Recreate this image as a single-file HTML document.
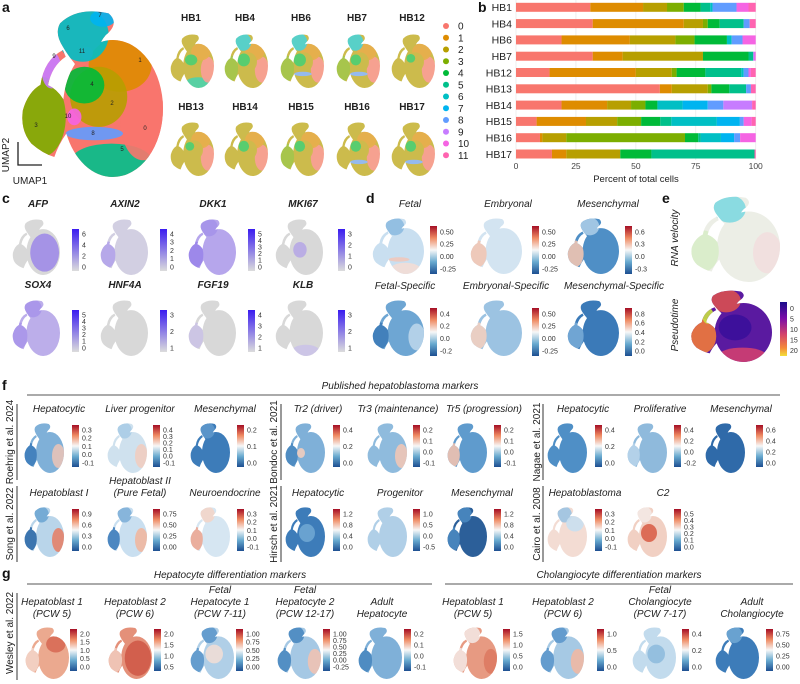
<!DOCTYPE html>
<html><head><meta charset="utf-8">
<style>
html,body{margin:0;padding:0;background:#fff;}
svg{display:block;font-family:"Liberation Sans",Arial,sans-serif;}
.t{font-style:italic;font-size:10px;fill:#222;text-anchor:middle;}
.cbl{font-size:7px;fill:#333;}
.lab{font-weight:bold;font-size:14px;fill:#111;}
.rl{font-size:10px;fill:#222;text-anchor:middle;}
</style></head>
<body>
<svg id="fig" width="800" height="684" viewBox="0 0 800 684" xmlns="http://www.w3.org/2000/svg">
<defs>
<linearGradient id="gRdBu" x1="0" y1="0" x2="0" y2="1"><stop offset="0" stop-color="#a50f25"/><stop offset="0.25" stop-color="#ef8a62"/><stop offset="0.5" stop-color="#f7f7f7"/><stop offset="0.75" stop-color="#67a9cf"/><stop offset="1" stop-color="#1d4f91"/></linearGradient>
<linearGradient id="gPur" x1="0" y1="0" x2="0" y2="1"><stop offset="0" stop-color="#3a1cf0"/><stop offset="1" stop-color="#dcdcdc"/></linearGradient>
<linearGradient id="gPlasma" x1="0" y1="0" x2="0" y2="1"><stop offset="0" stop-color="#1a0c8a"/><stop offset="0.3" stop-color="#7a0ca8"/><stop offset="0.6" stop-color="#d4436a"/><stop offset="0.85" stop-color="#f58a3a"/><stop offset="1" stop-color="#f3e03a"/></linearGradient>
</defs>
<text class="lab" x="2" y="12">a</text>
<text class="lab" x="478" y="12">b</text>
<text class="lab" x="2" y="203">c</text>
<text class="lab" x="366" y="203">d</text>
<text class="lab" x="662" y="203">e</text>
<text class="lab" x="2" y="390">f</text>
<text class="lab" x="2" y="578">g</text>
<g id="barchart"></g>
<g id="plots"></g>
</svg>
<script>
// ===== Bar chart data =====
const samples = ["HB1","HB4","HB6","HB7","HB12","HB13","HB14","HB15","HB16","HB17"];
const clusters = ["0","1","2","3","4","5","6","7","8","9","10","11"];
const clusterColors = ["#F8766D","#DE8C00","#B79F00","#7CAE00","#00BA38","#00C08B","#00BFC4","#00B4F0","#619CFF","#C77CFF","#F564E3","#FF64B0"];
const pctHB1  = [31,22,10,7,7,4,1,0,10,0,5,3];
const pctHB4  = [32,38,8,2,5,10,0,0,2.5,0,0,2.5];
const pctHB6  = [19,28.5,19,8,13.5,0,2,0,4.5,0,5.5,0];
const pctHB7  = [32,12.5,33.5,0,19,2,0,0,0,0.5,0.5,0];
const pctHB12 = [14,36,15,2,12,15,1,0,2,0,1,2];
const pctHB13 = [60,5,15,1.5,7.5,7,0,0,2,0,0,2];
const pctHB14 = [19,19,10,6,5,0,10.5,10.5,6.5,12,0,1.5];
const pctHB15 = [8.6,20.6,13,10,8,4.6,19,9.6,1.6,0,3.3,1.7];
const pctHB16 = [10,1,10,49.5,5.5,1,8.5,5.5,2.5,0,6.5,0];
const pctHB17 = [15,6,22.5,0,13,43,0,0,0,0,0,0.5];
const samplePcts = [pctHB1,pctHB4,pctHB6,pctHB7,pctHB12,pctHB13,pctHB14,pctHB15,pctHB16,pctHB17];
const xTicks = [0,25,50,75,100];

const NS="http://www.w3.org/2000/svg";
function mk(tag,attrs,parent){const e=document.createElementNS(NS,tag);for(const k in attrs)e.setAttribute(k,attrs[k]);if(parent)parent.appendChild(e);return e;}
function txt(parent,x,y,s,cls,extra){const e=mk('text',Object.assign({x:x,y:y},extra||{}),parent);if(cls)e.setAttribute('class',cls);e.textContent=s;return e;}

(function(){
  const g=document.getElementById('barchart');
  const x0=516,x1=755.7;
  const xs=v=>x0+(x1-x0)*v/100;
  const ys=i=>7.3+i*16.3;
  xTicks.forEach(t=>{
    const l=mk('line',{x1:xs(t),x2:xs(t),y1:0,y2:160,stroke:'#ebebeb','stroke-width':0.8},g);
    
    
    const tl=txt(g,xs(t),169,String(t),null,{'font-size':'8.5','fill':'#444','text-anchor':'middle'});
    
    
  });
  samples.forEach((s,i)=>{
    const lab=txt(g,512,ys(i)+3.8,s,null,{'font-size':'10.5','fill':'#222','text-anchor':'end'});
    
    
    let acc=0;
    samplePcts[i].forEach((v,k)=>{
      if(v<=0)return;
      const r=mk('rect',{x:xs(acc),y:ys(i)-4.5,width:xs(acc+v)-xs(acc),height:9,fill:clusterColors[k]},g);
      
      
      acc+=v;
    });
  });
  const at=txt(g,636,182,'Percent of total cells',null,{'font-size':'9.5','fill':'#222','text-anchor':'middle'});
  
  
  clusters.forEach((c,k)=>{
    const y=26+k*11.75;
    const d=mk('circle',{cx:446,cy:y,r:3,fill:clusterColors[k]},g);
    
    
    const t=txt(g,458,y+3.5,c,null,{'font-size':'10','fill':'#222'});
    
    
  });
})();

// ===== UMAP shapes =====
let clipId=0;
const SHAPE=[
 ['ellipse',{cx:65,cy:59,rx:35,ry:41}],
 ['path',{d:'M28,8 Q40,-2 62,2 Q70,8 60,15 Q53,22 52,34 L42,36 Q34,28 30,22 Q24,14 28,8Z'}],
 ['path',{d:'M2,60 Q6,48 16,44 Q26,46 32,56 L36,70 Q28,78 24,88 Q16,86 8,80 Q0,72 2,60Z'}],
 ['path',{d:'M14,47 Q16,30 30,24 L32,28 Q21,34 19,48Z'}]
];
const R={
 lobe:[44,15,18,16], arm:[15,64,17,24], right:[86,66,16,24], center:[55,52,20,18],
 bottom:[64,90,28,10], body:[68,60,30,34], stripe:[52,74,20,4], top:[70,33,22,16]
};
function umap(parent,name,x,y,w,h,base,ovs,op){
  const id='c'+(clipId++);
  const cp=mk('clipPath',{id:id},document.querySelector('defs'));
  const sx=w/100, sy=h/100;
  const grp=mk('g',{},parent);
  
  
  SHAPE.forEach(([t,a])=>{mk(t,a,cp);});
  cp.setAttribute('clipPathUnits','userSpaceOnUse');
  const inner=mk('g',{transform:'translate('+x+','+y+') scale('+sx+','+sy+')','clip-path':'url(#'+id+')'},grp);
  if(op)inner.setAttribute('opacity',op);
  mk('rect',{x:-5,y:-5,width:110,height:110,fill:base},inner);
  (ovs||[]).forEach(o=>{
    const r=typeof o[0]==='string'?R[o[0]]:o[0];
    mk('ellipse',{cx:r[0],cy:r[1],rx:r[2],ry:r[3],fill:o[1],opacity:o[2]||0.9},inner);
  });
  return grp;
}
function cbar(parent,name,x,y,h,grad,labels){
  const g=mk('g',{},parent);
  
  
  mk('rect',{x:x,y:y,width:7,height:h,fill:'url(#'+grad+')'},g);
  const n=labels.length;
  labels.forEach((l,i)=>{
    const fy=n>1? y+h*0.12+(h*0.78)*i/(n-1) : y+h/2;
    txt(g,x+10,fy+2.5,l,'cbl');
  });
}
function title(parent,x,yLast,lines,name){
  const n=lines.length;
  lines.forEach((l,i)=>{
    const t=txt(parent,x,yLast-(n-1-i)*12,l,'t');
    
    
  });
}
const P=document.getElementById('plots');

// Panel a main
umap(P,'umap-all-clusters',20,10,143,167,'#F8766D',[
 ['bottom','#00C08B'],['right','#F8766D'],['top','#DE8C00'],['center','#B79F00'],
 [[45,45,14,11],'#00BA38'],['stripe','#619CFF'],[[38,64,5,5],'#F564E3'],[[47,26,4,4],'#FF64B0'],
 ['arm','#7CAE00'],[[22,36,7,11],'#C77CFF'],['lobe','#00BFC4'],[[58,5,9,5],'#00B4F0']
],1);
[['1',[140,62]],['0',[145,130]],['2',[112,105]],['4',[92,86]],['3',[36,127]],['5',[122,151]],['6',[68,30]],['7',[100,17]],['8',[93,135]],['9',[54,58]],['10',[68,118]],['11',[82,53]]].forEach(([s,p])=>{
  const t=txt(P,p[0],p[1],s,null,{'font-size':'6','fill':'#222','text-anchor':'middle'});
  
  
});
mk('path',{d:'M18,142 L18,165 L42,165',fill:'none',stroke:'#222','stroke-width':1.3},P);
txt(P,9,155,'UMAP2','rl',{transform:'rotate(-90 9 155)','font-size':'10'});
txt(P,30,184,'UMAP1','rl',{'font-size':'10'});

// Panel a small
const hbNames=["HB1","HB4","HB6","HB7","HB12","HB13","HB14","HB15","HB16","HB17"];
const hbX=[170,224,280,336,391];
const hbOv={
 HB1:[['bottom','#00C08B'],['right','#F8766D'],['top','#DE8C00'],[[48,48,14,10],'#00BA38']],
 HB4:[['right','#F8766D'],['top','#DE8C00'],['center','#B79F00'],[[45,48,14,12],'#00BA38'],['arm','#7CAE00'],['lobe','#00BFC4']],
 HB6:[['right','#F8766D'],['top','#DE8C00'],['center','#B79F00'],[[45,48,14,12],'#00BA38'],['stripe','#619CFF'],['arm','#7CAE00'],['lobe','#00BFC4']],
 HB7:[['right','#F8766D'],['top','#DE8C00'],['center','#B79F00'],[[45,48,12,10],'#00BA38'],['stripe','#619CFF'],['arm','#7CAE00'],['lobe','#00BFC4']],
 HB12:[['right','#F8766D'],['top','#DE8C00'],['center','#B79F00'],[[45,45,10,8],'#00BA38']],
 HB13:[['right','#F8766D'],['top','#DE8C00'],['center','#B79F00'],[[45,45,10,8],'#00BA38']],
 HB14:[['right','#F8766D'],['top','#DE8C00'],['center','#B79F00'],[[45,45,12,10],'#00BA38']],
 HB15:[['right','#F8766D'],['top','#DE8C00'],['center','#B79F00'],[[45,45,12,10],'#00BA38'],['arm','#7CAE00']],
 HB16:[['right','#F8766D'],['top','#DE8C00'],['center','#B79F00'],[[45,45,12,10],'#00BA38'],['stripe','#619CFF']],
 HB17:[['right','#F8766D'],['top','#DE8C00'],['center','#B79F00'],[[45,45,12,10],'#00BA38'],['stripe','#619CFF']]
};
hbNames.forEach((n,i)=>{
  const col=i%5,row=Math.floor(i/5);
  const x=hbX[col],y=row?122:34;
  const t=txt(P,x+21,row?110:21,n,null,{'font-size':'10','font-weight':'bold','fill':'#222','text-anchor':'middle'});
  
  
  umap(P,'umap-'+n,x,y,44,54,'#B79F00',hbOv[n],0.7);
});

// Panel c
const cSpec=[
 ['AFP',12,219,38,72,['6','4','2','0'],'#d8d8d8',[['body','#a08ce8']]],
 ['AXIN2',100,219,125,160,['4','3','2','1','0'],'#d2cfe2',[['arm','#b3a3ea']]],
 ['DKK1',188,219,213,248,['5','4','3','2','1','0'],'#b6a6ec',[['arm','#9a85ea'],['lobe','#a593ea']]],
 ['MKI67',275,219,303,338,['3','2','1','0'],'#d8d8d8',[[[52,55,14,14],'#b7a8e6']]],
 ['SOX4',12,300,38,72,['5','4','3','2','1','0'],'#bcaeea',[['lobe','#a795ea'],['arm','#a896ea']]],
 ['HNF4A',100,300,125,160,['3','2','1'],'#d8d8d8',[]],
 ['FGF19',188,300,213,248,['4','3','2','1'],'#d8d8d8',[['arm','#cbc3e6']]],
 ['KLB',275,300,303,338,['3','2','1'],'#d8d8d8',[['bottom','#cbc3e8']]]
];
cSpec.forEach(s=>{
  title(P,s[3],s[2]-12,[s[0]],'gene-'+s[0]);
  P.lastChild.setAttribute('font-weight','bold');
  P.lastChild.setAttribute('font-size','11');
  umap(P,'umap-'+s[0],s[1],s[2],48,56,s[6],s[7]);
  cbar(P,'colorbar-'+s[0],s[4],s[2]+10,42,'gPur',s[5]);
});

// Panel d
const dSpec=[
 ['Fetal',372,218,410,430,['0.50','0.25','0.00','-0.25'],'#c9dff0',[['lobe','#8dbbe0'],['stripe','#f0c8bb'],['bottom','#f3ddd5']]],
 ['Embryonal',470,218,508,532,['0.50','0.25','0.00','-0.25'],'#d3e4f1',[['arm','#f1c5b4']]],
 ['Mesenchymal',567,218,608,625,['0.6','0.3','0.0','-0.3'],'#4f8fc6',[['arm','#f0c4b0'],['lobe','#a8cbe5']]],
 ['Fetal-Specific',372,300,405,430,['0.4','0.2','0.0','-0.2'],'#6ea6d3',[['arm','#3d7cb8'],['right','#b9d5ea']]],
 ['Embryonal-Specific',470,300,506,532,['0.50','0.25','0.00','-0.25'],'#9cc3e2',[['arm','#f2cfc0']]],
 ['Mesenchymal-Specific',567,300,614,625,['0.8','0.6','0.4','0.2','0.0'],'#3b7ab8',[['arm','#77aad6']]]
];
dSpec.forEach(s=>{
  title(P,s[3],s[2]-11,[s[0]],'score-'+s[0]);
  umap(P,'umap-'+s[0],s[1],s[2],52,56,s[6],s[7]);
  cbar(P,'colorbar-'+s[0],s[4],s[2]+8,48,'gRdBu',s[5]);
});

// Panel e
umap(P,'umap-rna-velocity',690,196,90,86,'#eceee6',[['lobe','#7fd8e0'],['arm','#d8ecc8'],['right','#f2dede']]);
txt(P,678,238,'RNA velocity','t',{transform:'rotate(-90 678 238)'});
umap(P,'umap-pseudotime',690,290,82,72,'#5a1aa0',[['lobe','#d84f50'],['arm','#f07a3a'],[[22,36,7,11],'#c8e040'],['bottom','#e0446a',0.8],['center','#3a109a']]);
txt(P,678,325,'Pseudotime','t',{transform:'rotate(-90 678 325)'});
cbar(P,'colorbar-pseudotime',780,302,54,'gPlasma',['0','5','10','15','20']);

// Panel f
txt(P,400,389,'Published hepatoblastoma markers','t',{'font-size':'10.5'});
mk('line',{x1:27,x2:780,y1:395,y2:395,stroke:'#555','stroke-width':1},P);
[[17,404,480],[281,404,480],[543,404,480],[17,486,562],[281,486,562],[543,486,562]].forEach(v=>{
  const l=mk('line',{x1:v[0],x2:v[0],y1:v[1],y2:v[2],stroke:'#333','stroke-width':1},P);
  
  
});
[['Roehrig et al. 2024',10,442],['Bondoc et al. 2021',274,442],['Nagae et al. 2021',537,442],['Song et al. 2022',10,524],['Hirsch et al. 2021',274,524],['Cairo et al. 2008',537,524],['Wesley et al. 2022',10,633]].forEach(r=>{
  const t=txt(P,r[1]+3,r[2],r[0],'rl',{transform:'rotate(-90 '+(r[1]+3)+' '+r[2]+')'});
  
  
});
const fSpec=[
 [['Hepatocytic'],24,423,59,72,['0.3','0.2','0.1','0.0','-0.1'],'#7fb0d8',[['arm','#3e7dbb'],['right','#e8c3b8']]],
 [['Liver progenitor'],107,423,140,153,['0.4','0.3','0.2','0.1','0.0','-0.1'],'#cfe1ee',[['right','#f0cdc0'],['lobe','#a9cce6']]],
 [['Mesenchymal'],190,423,225,237,['0.2','0.1','0.0'],'#3d7cb9',[['lobe','#5d97cb']]],
 [['Tr2 (driver)'],285,423,318,333,['0.4','0.2','0.0'],'#7fb0d8',[['arm','#4a88c0'],[[40,60,10,10],'#f1cdbf']]],
 [['Tr3 (maintenance)'],367,423,398,413,['0.2','0.1','0.0','-0.1'],'#8fbbdd',[['right','#f0c7b6']]],
 [['Tr5 (progression)'],447,423,484,494,['0.2','0.1','0.0','-0.1'],'#5f9bcd',[['arm','#f0c2b0']]],
 [['Hepatocytic'],547,423,583,595,['0.4','0.2','0.0'],'#4f8fc6',[]],
 [['Proliferative'],627,423,660,674,['0.4','0.2','0.0','-0.2'],'#8fbadc',[['arm','#b7d4ea']]],
 [['Mesenchymal'],705,423,741,756,['0.6','0.4','0.2','0.0'],'#2f6aa9',[]],
 [['Hepatoblast I'],24,507,59,72,['0.9','0.6','0.3','0.0'],'#b9d5ea',[['arm','#2f6aa9'],['right','#e4826a'],['lobe','#6ea6d3']]],
 [['Hepatoblast II','(Pure Fetal)'],107,507,140,153,['0.75','0.50','0.25','0.00'],'#c9dff0',[['arm','#3e7dbb'],['right','#efb7a0'],['lobe','#7fb0d8']]],
 [['Neuroendocrine'],190,507,225,237,['0.3','0.2','0.1','0.0','-0.1'],'#d6e6f2',[['arm','#eca793'],['lobe','#f3d5c9']]],
 [['Hepatocytic'],285,507,318,333,['1.2','0.8','0.4','0.0'],'#3d7cb9',[['center','#6ea6d3']]],
 [['Progenitor'],367,507,400,413,['1.0','0.5','0.0','-0.5'],'#b0cfe7',[]],
 [['Mesenchymal'],447,507,482,494,['1.2','0.8','0.4','0.0'],'#2c5f99',[['lobe','#4a88c0'],['arm','#4a88c0']]],
 [['Hepatoblastoma'],547,507,585,595,['0.3','0.2','0.1','0.0','-0.1'],'#f3dcd3',[['lobe','#9cc3e2'],['top','#c9dff0']]],
 [['C2'],627,507,663,674,['0.5','0.4','0.3','0.2','0.1','0.0'],'#f1d0c3',[['center','#d9604a'],['lobe','#f3e8e4']]]
];
fSpec.forEach((s,i)=>{
  title(P,s[3],s[2]-11,s[0],'marker-'+i);
  umap(P,'umap-marker-'+i,s[1],s[2],40,50,s[6],s[7]);
  cbar(P,'colorbar-marker-'+i,s[4],s[2]+2,42,'gRdBu',s[5]);
});

// Panel g
txt(P,230,578,'Hepatocyte differentiation markers','t',{'font-size':'10.5'});
mk('line',{x1:27,x2:432,y1:584,y2:584,stroke:'#555','stroke-width':1},P);
txt(P,619,578,'Cholangiocyte differentiation markers','t',{'font-size':'10.5'});
mk('line',{x1:445,x2:793,y1:584,y2:584,stroke:'#555','stroke-width':1},P);
mk('line',{x1:17,x2:17,y1:593,y2:680,stroke:'#333','stroke-width':1},P);
const gSpec=[
 [['Hepatoblast 1','(PCW 5)'],25,627,52,70,['2.0','1.5','1.0','0.5','0.0'],'#eba98f',[['top','#d86a55'],['arm','#f3d3c6']]],
 [['Hepatoblast 2','(PCW 6)'],108,627,135,154,['2.0','1.5','1.0','0.5'],'#e49079',[['body','#cf5a48'],['arm','#f0c9ba']]],
 [['Fetal','Hepatocyte 1','(PCW 7-11)'],190,627,220,236,['1.00','0.75','0.50','0.25','0.00'],'#b0cfe7',[['arm','#5d97cb'],['center','#f0ddd6'],['lobe','#5d97cb']]],
 [['Fetal','Hepatocyte 2','(PCW 12-17)'],277,627,305,323,['1.00','0.75','0.50','0.25','0.00','-0.25'],'#a5c8e4',[['arm','#4a88c0'],['right','#efc2b2'],['lobe','#4a88c0']]],
 [['Adult','Hepatocyte'],358,627,382,404,['0.2','0.1','0.0','-0.1'],'#7fb0d8',[['arm','#4a88c0']]],
 [['Hepatoblast 1','(PCW 5)'],453,627,473,503,['1.5','1.0','0.5','0.0'],'#e79a82',[['arm','#f3e6e1'],['lobe','#f3e6e1'],['right','#dd7a62']]],
 [['Hepatoblast 2','(PCW 6)'],540,627,563,597,['1.0','0.5','0.0'],'#a6c9e4',[['right','#efb8a3'],['arm','#5d97cb'],['lobe','#5d97cb']]],
 [['Fetal','Cholangiocyte','(PCW 7-17)'],632,627,660,682,['0.4','0.2','0.0'],'#c2dbed',[['center','#8fbbdd']]],
 [['Adult','Cholangiocyte'],715,627,752,766,['0.75','0.50','0.25','0.00'],'#3d7cb9',[['lobe','#6ea6d3']]]
];
gSpec.forEach((s,i)=>{
  title(P,s[3],s[2]-10,s[0],'diff-marker-'+i);
  umap(P,'umap-diff-marker-'+i,s[1],s[2],44,52,s[6],s[7]);
  cbar(P,'colorbar-diff-marker-'+i,s[4],s[2]+2,42,'gRdBu',s[5]);
});
</script>
</body></html>
